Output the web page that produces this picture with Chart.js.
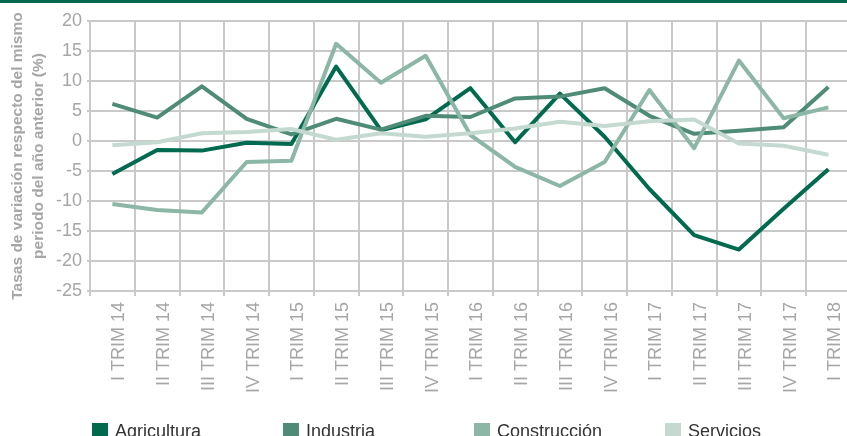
<!DOCTYPE html>
<html lang="es">
<head>
  <meta charset="UTF-8">
  <title>Tasas de variación por sector</title>
  <script src="https://cdn.jsdelivr.net/npm/chart.js"></script>
  <style>
    html, body { margin: 0; padding: 0; background: #fff; overflow: hidden; }
    body { width: 847px; height: 436px; position: relative; font-family: "Liberation Sans", Arial, sans-serif; }
    .barra { position: absolute; left: 0; top: 0; width: 847px; height: 3px; background: #006a4e; }
    .grafico { position: absolute; left: 0; top: 0; width: 856px; height: 400px; }
    .leyenda { position: absolute; left: 0; top: 0; width: 847px; height: 436px; pointer-events: none; }
    .item { position: absolute; top: 421px; height: 20px; font-size: 18px; color: #333; line-height: 20px; white-space: nowrap; }
    .item span.caja { display: inline-block; width: 16px; height: 16px; vertical-align: top; margin-top: 2px; margin-right: 7px; }
  </style>
</head>
<body>
  <div class="barra"></div>
  <div class="grafico"><canvas id="grafico"></canvas></div>
  <div class="leyenda" id="leyenda"></div>

  <script>
    // trimestres
    const trimestres = ['I TRIM 14', 'II TRIM 14', 'III TRIM 14', 'IV TRIM 14',
                        'I TRIM 15', 'II TRIM 15', 'III TRIM 15', 'IV TRIM 15',
                        'I TRIM 16', 'II TRIM 16', 'III TRIM 16', 'IV TRIM 16',
                        'I TRIM 17', 'II TRIM 17', 'III TRIM 17', 'IV TRIM 17',
                        'I TRIM 18'];

    const agricultura  = [-5.5, -1.5, -1.6, -0.3, -0.5, 12.4, 1.8, 3.6, 8.8, -0.2, 7.9, 0.7, -8.0, -15.7, -18.1, -11.3, -4.7];
    const industria    = [6.2, 3.9, 9.1, 3.7, 1.1, 3.7, 1.9, 4.2, 4.0, 7.1, 7.4, 8.8, 4.2, 1.2, 1.7, 2.3, 9.0];
    const construccion = [-10.5, -11.5, -11.9, -3.5, -3.3, 16.2, 9.7, 14.2, 1.0, -4.3, -7.5, -3.5, 8.5, -1.2, 13.4, 3.8, 5.6];
    const servicios    = [-0.7, -0.2, 1.3, 1.5, 2.0, 0.2, 1.3, 0.7, 1.3, 2.1, 3.2, 2.5, 3.3, 3.6, -0.4, -0.8, -2.3];

    const nombres = ['Agricultura', 'Industria', 'Construcción', 'Servicios'];
    const colores = ['#006a4e', '#4f8c77', '#8cb6a5', '#c4dad0'];
    const series = [agricultura, industria, construccion, servicios];

    const gris = '#a6a6a6';
    const rejilla = '#c9c9c9';
    const fuente = '"Liberation Sans", Arial, sans-serif';

    new Chart(document.getElementById('grafico'), {
      type: 'line',
      data: {
        labels: trimestres,
        datasets: series.map((s, i) => ({
          label: nombres[i],
          data: s,
          borderColor: colores[i],
          backgroundColor: colores[i],
          borderWidth: 4,
          borderJoinStyle: 'round',
          pointRadius: 0,
          tension: 0,
          fill: false,
          order: 4 - i
        }))
      },
      options: {
        responsive: true,
        maintainAspectRatio: false,
        animation: false,
        layout: { padding: { top: 21, right: 0, bottom: 0, left: 0 } },
        plugins: {
          legend: { display: false },
          tooltip: { enabled: false }
        },
        scales: {
          x: {
            offset: true,
            grid: { offset: true, color: rejilla, lineWidth: 2, tickLength: 5 },
            border: { color: rejilla, width: 2 },
            ticks: {
              color: gris,
              font: { family: fuente, size: 18 },
              minRotation: 90,
              maxRotation: 90,
              padding: 6,
              labelOffset: 7,
              autoSkip: false
            },
            afterFit: scale => { scale.height = 109; }
          },
          y: {
            min: -25,
            max: 20,
            grid: { color: rejilla, lineWidth: 2, tickLength: 3 },
            border: { color: rejilla, width: 2 },
            ticks: {
              stepSize: 5,
              color: gris,
              font: { family: fuente, size: 18 },
              padding: 5
            },
            title: {
              display: true,
              text: ['Tasas de variación respecto del mismo', 'periodo del año anterior (%)'],
              color: gris,
              font: { family: fuente, size: 15.5, weight: 'bold', lineHeight: 1.3 },
              padding: { top: 8, bottom: 0 }
            },
            afterFit: scale => { scale.width = 90; }
          }
        }
      }
    });

    // leyenda en HTML con separación fija
    const leyenda = document.getElementById('leyenda');
    const posiciones = [92, 283, 474, 665];
    nombres.forEach((n, i) => {
      const item = document.createElement('div');
      item.className = 'item';
      item.style.left = posiciones[i] + 'px';
      const caja = document.createElement('span');
      caja.className = 'caja';
      caja.style.background = colores[i];
      item.appendChild(caja);
      item.appendChild(document.createTextNode(n));
      leyenda.appendChild(item);
    });
  </script>
</body>
</html>
